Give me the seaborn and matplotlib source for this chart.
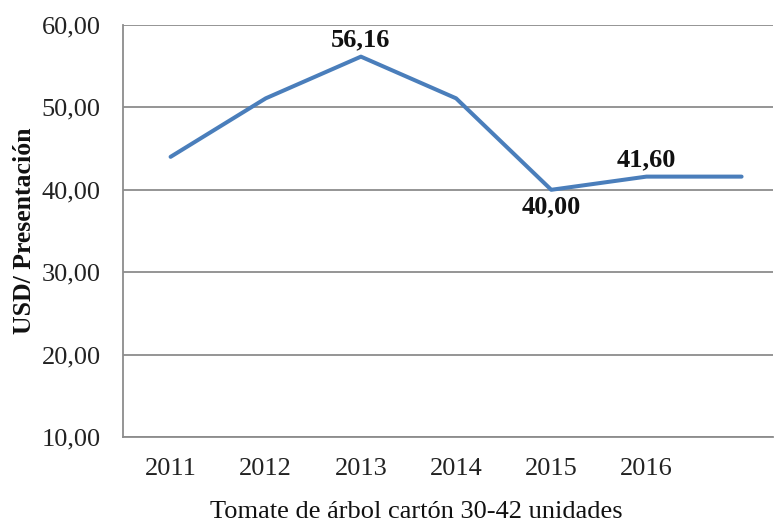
import matplotlib
matplotlib.use('Agg')
import matplotlib.pyplot as plt
import seaborn as sns
import pandas as pd
from matplotlib.ticker import FuncFormatter

# Data
years = ['2011', '2012', '2013', '2014', '2015', '2016', '']
prices = [44.0, 51.1, 56.16, 51.1, 40.0, 41.6, 41.6]
labelled = {2: ('56,16', 'above'), 4: ('40,00', 'below'), 5: ('41,60', 'above')}

df = pd.DataFrame({'pos': range(len(years)), 'year': years, 'price': prices})

sns.set_style('white')
plt.rcParams['font.family'] = ['Liberation Serif', 'DejaVu Serif']

fig = plt.figure(figsize=(7.74, 5.23), dpi=100)
ax = fig.add_axes([123 / 774, 1 - 437 / 523, (773 - 123) / 774, (437 - 25) / 523])

sns.lineplot(data=df, x='pos', y='price', ax=ax, color='#4A7EBB', linewidth=2.9)

# Data labels
for i, (txt, where) in labelled.items():
    if where == 'above':
        ax.annotate(txt, (i, prices[i]), xytext=(0, 4), textcoords='offset points',
                    ha='center', va='bottom', fontsize=19, fontweight='bold', color='#111111')
    else:
        ax.annotate(txt, (i, prices[i]), xytext=(0, -4), textcoords='offset points',
                    ha='center', va='top', fontsize=19, fontweight='bold', color='#111111')

ax.set_xlim(-0.5, 6.33)
ax.set_ylim(10, 60)
ax.set_xticks(df['pos'])
ax.set_xticklabels(years)
ax.set_yticks([10, 20, 30, 40, 50, 60])
ax.yaxis.set_major_formatter(FuncFormatter(lambda v, p: f'{v:.2f}'.replace('.', ',')))
ax.tick_params(axis='both', length=0, labelsize=19, colors='#222222')
ax.tick_params(axis='x', pad=15)
ax.tick_params(axis='y', pad=16)

ax.grid(axis='y', color='#8C8C8C', linewidth=1.3)
ax.set_axisbelow(True)
for side in ['top', 'right']:
    ax.spines[side].set_visible(False)
for side in ['left', 'bottom']:
    ax.spines[side].set_color('#8C8C8C')
    ax.spines[side].set_linewidth(1.3)

ax.set_xlabel('Tomate de árbol cartón 30-42 unidades', fontsize=19, color='#111111')
ax.xaxis.set_label_coords(0.452, -0.155)
ax.set_ylabel('USD/ Presentación', fontsize=18.5, fontweight='bold', labelpad=4, color='#111111')

fig.savefig('out.png', dpi=100)
